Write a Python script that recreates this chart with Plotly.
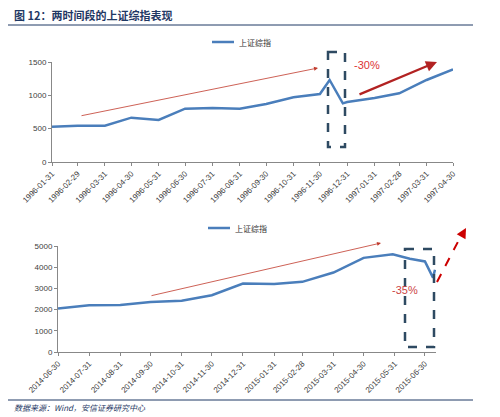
import plotly.graph_objects as go

d1 = ["1996-01-31","1996-02-29","1996-03-31","1996-04-30","1996-05-31","1996-06-30","1996-07-31","1996-08-31","1996-09-30","1996-10-31","1996-11-30","1996-12-11","1996-12-26","1996-12-31","1997-01-31","1997-02-28","1997-03-31","1997-04-30"]
v1 = [530,545,545,665,630,800,810,800,870,970,1020,1230,880,900,960,1030,1230,1390]
t1 = ["1996-01-31","1996-02-29","1996-03-31","1996-04-30","1996-05-31","1996-06-30","1996-07-31","1996-08-31","1996-09-30","1996-10-31","1996-11-30","1996-12-31","1997-01-31","1997-02-28","1997-03-31","1997-04-30"]
d2 = ["2014-06-30","2014-07-31","2014-08-31","2014-09-30","2014-10-31","2014-11-30","2014-12-31","2015-01-31","2015-02-28","2015-03-31","2015-04-30","2015-05-29","2015-06-15","2015-06-30","2015-07-08","2015-07-10"]
v2 = [2050,2200,2220,2360,2420,2680,3230,3210,3310,3750,4440,4610,4400,4270,3510,3880]
t2 = ["2014-06-30","2014-07-31","2014-08-31","2014-09-30","2014-10-31","2014-11-30","2014-12-31","2015-01-31","2015-02-28","2015-03-31","2015-04-30","2015-05-31","2015-06-30"]

OFF = 8
W, H = 500 - OFF, 417 - OFF
def px(x): return (x - OFF) / W
def py(y): return 1 - (y - OFF) / H

blue = "#4a7ebb"
fig = go.Figure()
fig.add_trace(go.Scatter(x=d1, y=v1, mode="lines", line=dict(color=blue, width=2.5), xaxis="x", yaxis="y", showlegend=False))
fig.add_trace(go.Scatter(x=d2, y=v2, mode="lines", line=dict(color=blue, width=2.5), xaxis="x2", yaxis="y2", showlegend=False))

tickfont = dict(size=8, color="#404040", family="Liberation Sans")
common_x = dict(type="date", automargin=False, showgrid=False, showline=True, linecolor="#888", ticks="outside", ticklen=3, tickcolor="#888", tickangle=-45, tickfont=tickfont)
common_y = dict(automargin=False, showgrid=False, showline=True, linecolor="#888", ticks="outside", ticklen=3, tickcolor="#888", tickfont=tickfont)
fig.update_layout(
    width=W, height=H, margin=dict(l=0, r=0, t=0, b=0),
    paper_bgcolor="white", plot_bgcolor="white",
    xaxis=dict(common_x, domain=[px(52), px(453)], range=["1996-01-31", "1997-04-30"], tickvals=t1, ticktext=t1, anchor="y"),
    yaxis=dict(common_y, domain=[py(162), py(62)], range=[0, 1500], tickvals=[0, 500, 1000, 1500], anchor="x"),
    xaxis2=dict(common_x, domain=[px(58), px(436)], range=["2014-06-30", "2015-07-11"], tickvals=t2, ticktext=t2, anchor="y2"),
    yaxis2=dict(common_y, domain=[py(352), py(246)], range=[0, 5000], tickvals=[0, 1000, 2000, 3000, 4000, 5000], anchor="x2"),
)

shapes = []
ann = []
navy = "#1f3864"
def arrow(x0, y0, x1, y1, color, width):
    ann.append(dict(x=px(x1), y=py(y1), ax=x0 - x1, ay=y0 - y1, xref="paper", yref="paper",
                    axref="pixel", ayref="pixel", text="", showarrow=True, arrowhead=2,
                    arrowsize=1, arrowwidth=width, arrowcolor=color))

ann.append(dict(x=px(12), y=py(15), xref="paper", yref="paper", text="<b>图 12：两时间段的上证综指表现</b>", showarrow=False, xanchor="left", yanchor="middle", font=dict(size=11, color=navy, family="Noto Sans CJK SC")))
shapes.append(dict(type="line", xref="paper", yref="paper", x0=px(8), x1=px(473), y0=py(25), y1=py(25), line=dict(color=navy, width=1)))
shapes.append(dict(type="line", xref="paper", yref="paper", x0=px(8), x1=px(473), y0=py(400), y1=py(400), line=dict(color=navy, width=1)))
ann.append(dict(x=px(12), y=py(407), xref="paper", yref="paper", text="<i>数据来源：Wind，安信证券研究中心</i>", showarrow=False, xanchor="left", yanchor="middle", font=dict(size=8, color=navy, family="Noto Sans CJK SC")))
for lx, ly in [(212, 42), (208, 228)]:
    shapes.append(dict(type="line", xref="paper", yref="paper", x0=px(lx), x1=px(lx + 22), y0=py(ly), y1=py(ly), line=dict(color=blue, width=2.5)))
    ann.append(dict(x=px(lx + 25), y=py(ly), xref="paper", yref="paper", text="上证综指", showarrow=False, xanchor="left", yanchor="middle", font=dict(size=8, color="#333", family="Noto Sans CJK SC")))
red = "#c0392b"
arrow(80, 116, 318, 68, red, 0.8)
arrow(358, 95, 437, 62, "#b22222", 2.2)
shapes.append(dict(type="rect", xref="paper", yref="paper", x0=px(328), x1=px(345), y0=py(52), y1=py(147), line=dict(color="#2e4a62", width=2.5, dash="dash")))
ann.append(dict(x=px(352), y=py(57), xref="paper", yref="paper", text="-30%", showarrow=False, xanchor="left", font=dict(size=11, color="#d33", family="Liberation Sans")))
arrow(150, 296, 381, 243, red, 0.8)
shapes.append(dict(type="rect", xref="paper", yref="paper", x0=px(405), x1=px(434), y0=py(249), y1=py(347), line=dict(color="#2e4a62", width=2.5, dash="dash")))
ann.append(dict(x=px(420), y=py(298), xref="paper", yref="paper", text="-35%", showarrow=False, font=dict(size=11, color="#c44", family="Liberation Sans")))
shapes.append(dict(type="line", xref="paper", yref="paper", x0=px(437), x1=px(462), y0=py(282), y1=py(234), line=dict(color="#c00", width=2, dash="dash")))
arrow(461, 237, 466, 228, "#c00", 2)
fig.update_layout(shapes=shapes, annotations=ann)
fig.write_html("out.html")
